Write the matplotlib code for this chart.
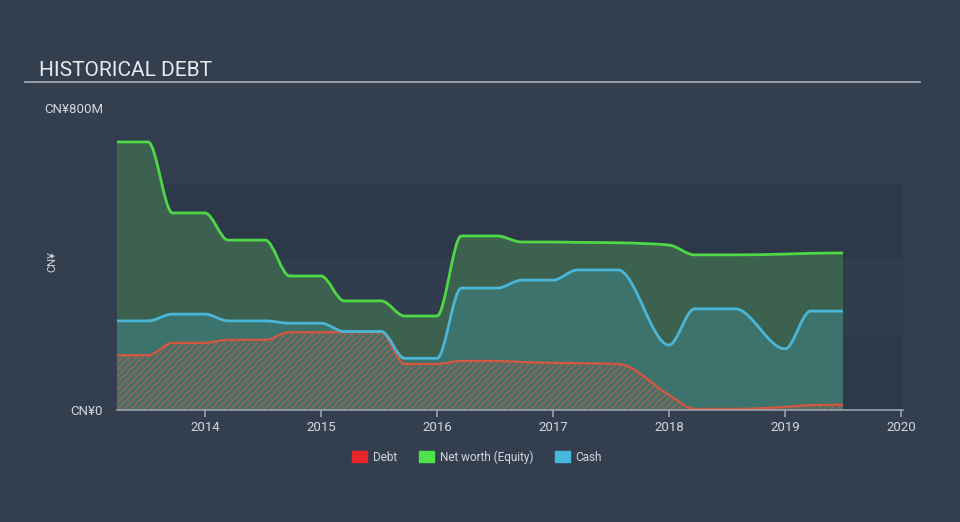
import matplotlib
matplotlib.use("Agg")
import matplotlib.pyplot as plt
import numpy as np
from matplotlib.path import Path
from matplotlib.patches import PathPatch, Patch

# report dates (decimal years) and values in CN¥ millions
dates = [2013.24, 2013.51, 2013.72, 2014.0, 2014.2, 2014.52, 2014.73, 2015.0,
         2015.2, 2015.52, 2015.72, 2016.0, 2016.21, 2016.52, 2016.73, 2017.0,
         2017.21, 2017.56, 2018.0, 2018.22, 2018.57, 2019.0, 2019.22, 2019.5]
equity = [710, 710, 522, 522, 450, 450, 355, 355, 289, 289, 249, 249,
          461, 461, 445, 445, 444, 443, 437, 411, 411, 413, 415, 416]
cash = [236, 236, 254, 254, 236, 236, 230, 230, 208, 208, 137, 137,
        323, 323, 344, 344, 371, 371, 172, 268, 268, 162, 262, 262]
debt = [145, 145, 178, 178, 186, 186, 206, 206, 206, 206, 122, 122,
        130, 130, 127, 125, 124, 122, 40, 3, 3, 8, 13, 14]

year_ticks = [2014, 2015, 2016, 2017, 2018, 2019, 2020]

BG = "#333f4f"
BAND = "#2d3949"
TXT = "#d3d7dc"

plt.rcParams["font.family"] = ["Roboto", "DejaVu Sans"]
plt.rcParams["hatch.linewidth"] = 0.9


def monotone_path(xs, ys, close=False):
    """Кривая как d3.curveMonotoneX, через безье-сегменты."""
    xs = np.asarray(xs, float)
    ys = np.asarray(ys, float)
    n = len(xs)
    h = np.diff(xs)
    s = np.diff(ys) / h
    t = np.zeros(n)
    for i in range(1, n - 1):
        p = (s[i - 1] * h[i] + s[i] * h[i - 1]) / (h[i - 1] + h[i])
        t[i] = (np.sign(s[i - 1]) + np.sign(s[i])) * min(abs(s[i - 1]), abs(s[i]), 0.5 * abs(p))
    t[0] = (3 * s[0] - t[1]) / 2
    t[-1] = (3 * s[-1] - t[-2]) / 2
    verts = [(xs[0], ys[0])]
    codes = [Path.MOVETO]
    for i in range(n - 1):
        dx = h[i] / 3
        verts += [(xs[i] + dx, ys[i] + dx * t[i]),
                  (xs[i + 1] - dx, ys[i + 1] - dx * t[i + 1]),
                  (xs[i + 1], ys[i + 1])]
        codes += [Path.CURVE4] * 3
    if close:
        verts += [(xs[-1], 0), (xs[0], 0), (xs[0], ys[0])]
        codes += [Path.LINETO, Path.LINETO, Path.CLOSEPOLY]
    return Path(verts, codes)


fig = plt.figure(figsize=(9.6, 5.22), dpi=100, facecolor=BG)
W, H = 960, 522
ax = fig.add_axes([117 / W, 1 - 410 / H, (903 - 117) / W, (410 - 108) / H])
ax.set_facecolor(BG)
ax.set_xlim(2014 - 88 / 116, 2020 + 2 / 116)
ax.set_ylim(0, 800)

# background bands
for lo, hi, c in [(0, 200, BAND), (200, 400, "#313d4d"), (400, 600, BAND)]:
    ax.axhspan(lo, hi, color=c, lw=0, zorder=0)

# areas
ax.add_patch(PathPatch(monotone_path(dates, equity, True), facecolor="#3c614f", lw=0, zorder=1))
ax.add_patch(PathPatch(monotone_path(dates, cash, True), facecolor="#3d736d", lw=0, zorder=2))
ax.add_patch(PathPatch(monotone_path(dates, debt, True), facecolor="#4a6e66", lw=0, zorder=3))
ax.add_patch(PathPatch(monotone_path(dates, debt, True), facecolor="none", edgecolor="#9c6656",
                       lw=0, hatch="/////", zorder=3))

# lines
ax.add_patch(PathPatch(monotone_path(dates, debt), facecolor="none", edgecolor="#d5573f", lw=1.6, zorder=4))
ax.add_patch(PathPatch(monotone_path(dates, cash), facecolor="none", edgecolor="#4ab6d8", lw=2, zorder=5))
ax.add_patch(PathPatch(monotone_path(dates, equity), facecolor="none", edgecolor="#4fd846", lw=2, zorder=6))

for side in ["top", "right", "left"]:
    ax.spines[side].set_visible(False)
ax.spines["bottom"].set_color("#9aa3ad")
ax.spines["bottom"].set_linewidth(1.2)
ax.spines["bottom"].set_zorder(7)

ax.set_xticks(year_ticks)
ax.set_xticklabels([str(y) for y in year_ticks])
ax.tick_params(axis="x", colors="#9aa3ad", length=5, width=1.2, labelcolor=TXT, labelsize=9.5, pad=3)
ax.set_yticks([0, 800])
ax.set_yticklabels(["CN¥0", "CN¥800M"])
ax.tick_params(axis="y", length=0, labelcolor=TXT, labelsize=9.5, pad=10)

fig.text(52 / W, 1 - 262 / H, "CN¥", rotation=90, color=TXT, fontsize=8, ha="center", va="center")

# title
fig.text(39 / W, 1 - 70 / H, "HISTORICAL DEBT", color="#e8eaed", fontsize=15, ha="left", va="center")
fig.add_artist(plt.Line2D([25 / W, 920 / W], [1 - 82 / H, 1 - 82 / H], color="#a9b0b8", lw=1.2))

handles = [Patch(color="#e8262a", label="Debt"),
           Patch(color="#4fe24b", label="Net worth (Equity)"),
           Patch(color="#46b8dd", label="Cash")]
fig.legend(handles=handles, loc="center", bbox_to_anchor=(477 / W, 1 - 457 / H), ncol=3,
           frameon=False, fontsize=8.5, labelcolor=TXT, handlelength=1.3, handleheight=1.0,
           handletextpad=0.5, columnspacing=1.8)

fig.savefig("out.png", dpi=100, facecolor=BG)
